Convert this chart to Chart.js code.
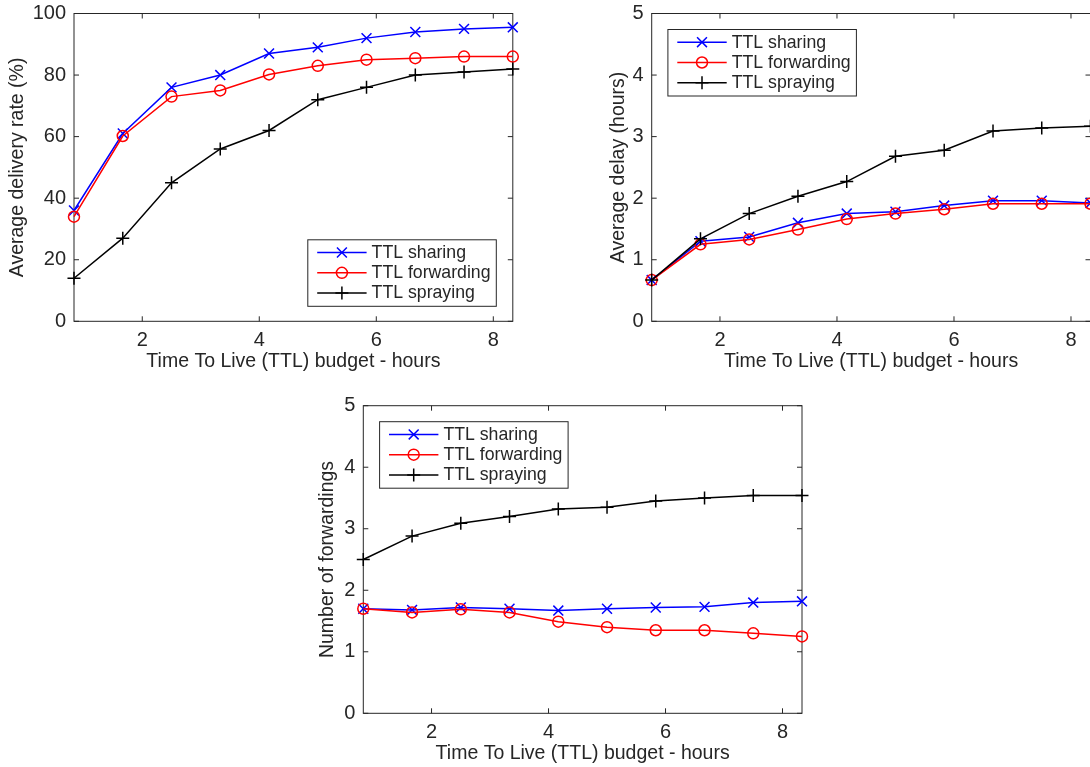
<!DOCTYPE html>
<html><head><meta charset="utf-8">
<script src="https://cdn.jsdelivr.net/npm/chart.js@4.4.1/dist/chart.umd.min.js"></script>
<style>
html,body{margin:0;padding:0;background:#fff;width:1090px;height:767px;overflow:hidden;position:relative}
canvas{position:absolute}
</style></head><body>
<canvas id="c1" width="545" height="380" style="left:0px;top:0px"></canvas>
<canvas id="c2" width="540" height="380" style="left:560px;top:0px"></canvas>
<canvas id="c3" width="520" height="377" style="left:300px;top:390px"></canvas>
<script>
// ---- data ----
const ttlHours = [0.833, 1.667, 2.5, 3.333, 4.167, 5, 5.833, 6.667, 7.5, 8.333];
const xRange = [0.8333, 8.3333];
const xTickValues = [2, 4, 6, 8];
const seriesNames = ['TTL sharing', 'TTL forwarding', 'TTL spraying'];
const xTitle = 'Time To Live (TTL) budget - hours';

const rateTicks = [0, 20, 40, 60, 80, 100];
const rateSharing    = [36, 61, 76, 80, 87, 89, 92, 94, 95, 95.5];
const rateForwarding = [34, 60.2, 73, 75, 80.2, 83, 85, 85.5, 86, 86];
const rateSpraying   = [14, 27, 45, 56, 62, 72, 76, 80, 81, 82];

const delayTicks = [0, 1, 2, 3, 4, 5];
const delaySharing    = [0.67, 1.30, 1.37, 1.60, 1.75, 1.78, 1.88, 1.96, 1.96, 1.92];
const delayForwarding = [0.67, 1.25, 1.33, 1.49, 1.66, 1.75, 1.82, 1.91, 1.91, 1.91];
const delaySpraying   = [0.67, 1.34, 1.75, 2.03, 2.27, 2.68, 2.78, 3.09, 3.14, 3.17];

const fwdTicks = [0, 1, 2, 3, 4, 5];
const fwdSharing    = [1.70, 1.68, 1.72, 1.70, 1.67, 1.70, 1.72, 1.73, 1.80, 1.82];
const fwdForwarding = [1.70, 1.64, 1.69, 1.64, 1.49, 1.40, 1.35, 1.35, 1.30, 1.25];
const fwdSpraying   = [2.50, 2.88, 3.09, 3.20, 3.32, 3.35, 3.45, 3.50, 3.54, 3.54];

// ---- styles ----
const TEXT = '#262626';
const FONT = "'Liberation Sans', Arial, Helvetica, sans-serif";
const seriesStyles = [
  {color: '#0000ff', pointStyle: 'crossRot', radius: 7, order: 3},
  {color: '#ff0000', pointStyle: 'circle', radius: 5.5, order: 2},
  {color: '#000000', pointStyle: 'cross', radius: 6.5, order: 1}
];

function drawMarker(ctx, style, x, y, r) {
  ctx.beginPath();
  if (style === 'circle') {
    ctx.arc(x, y, r, 0, Math.PI * 2);
  } else if (style === 'cross') {
    ctx.moveTo(x - r, y); ctx.lineTo(x + r, y);
    ctx.moveTo(x, y - r); ctx.lineTo(x, y + r);
  } else {
    const d = r * Math.SQRT1_2;
    ctx.moveTo(x - d, y - d); ctx.lineTo(x + d, y + d);
    ctx.moveTo(x - d, y + d); ctx.lineTo(x + d, y - d);
  }
  ctx.stroke();
}

const matlabPlugin = {
  id: 'matlabBox',
  beforeDatasetsDraw(chart) {
    const {ctx, chartArea: a, scales} = chart;
    ctx.save();
    ctx.strokeStyle = TEXT;
    ctx.lineWidth = 1;
    ctx.strokeRect(a.left, a.top, a.right - a.left, a.bottom - a.top);
    const tl = 5;
    ctx.beginPath();
    scales.x.ticks.forEach(t => {
      const px = scales.x.getPixelForValue(t.value);
      ctx.moveTo(px, a.bottom); ctx.lineTo(px, a.bottom - tl);
      ctx.moveTo(px, a.top); ctx.lineTo(px, a.top + tl);
    });
    scales.y.ticks.forEach(t => {
      const py = scales.y.getPixelForValue(t.value);
      ctx.moveTo(a.left, py); ctx.lineTo(a.left + tl, py);
      ctx.moveTo(a.right, py); ctx.lineTo(a.right - tl, py);
    });
    ctx.stroke();
    ctx.restore();
  },
  afterDraw(chart) {
    const cfg = chart.options.plugins.matlabLegend;
    if (!cfg) return;
    const {ctx, chartArea: a} = chart;
    const w = 188.5, h = 66.5;
    const left = cfg.corner === 'br' ? a.right - cfg.dx - w : a.left + cfg.dx;
    const top = cfg.corner === 'br' ? a.bottom - cfg.dy - h : a.top + cfg.dy;
    ctx.save();
    ctx.fillStyle = '#ffffff';
    ctx.fillRect(left, top, w, h);
    ctx.strokeStyle = TEXT;
    ctx.lineWidth = 1;
    ctx.strokeRect(left, top, w, h);
    chart.data.datasets.forEach((ds, i) => {
      const y = top + 12.7 + i * 20.3;
      ctx.strokeStyle = ds.borderColor;
      ctx.lineWidth = 1.5;
      ctx.beginPath();
      ctx.moveTo(left + 9.4, y); ctx.lineTo(left + 58.8, y);
      ctx.stroke();
      drawMarker(ctx, ds.pointStyle, left + 34.1, y, ds.pointRadius);
      ctx.fillStyle = TEXT;
      ctx.font = '17.7px ' + FONT;
      ctx.textBaseline = 'middle';
      ctx.textAlign = 'left';
      ctx.fillText(ds.label, left + 63.8, y + 0.5);
    });
    ctx.restore();
  }
};

function makeChart(id, values, yTicks, yTitle, lay, legendCfg) {
  const datasets = values.map((vals, i) => ({
    label: seriesNames[i],
    data: ttlHours.map((x, j) => ({x: x, y: vals[j]})),
    borderColor: seriesStyles[i].color,
    backgroundColor: 'rgba(0,0,0,0)',
    borderWidth: 1.5,
    pointStyle: seriesStyles[i].pointStyle,
    pointRadius: seriesStyles[i].radius,
    pointBorderWidth: 1.5,
    pointBorderColor: seriesStyles[i].color,
    pointBackgroundColor: 'rgba(0,0,0,0)',
    pointHoverRadius: seriesStyles[i].radius,
    order: seriesStyles[i].order,
    tension: 0,
    clip: false
  }));
  return new Chart(document.getElementById(id), {
    type: 'line',
    data: {datasets},
    plugins: [matlabPlugin],
    options: {
      responsive: false,
      animation: false,
      devicePixelRatio: 1,
      events: [],
      layout: {padding: {left: lay.padL, top: lay.padT, right: lay.padR, bottom: lay.padB}},
      plugins: {legend: {display: false}, tooltip: {enabled: false}, matlabLegend: legendCfg},
      scales: {
        x: {
          type: 'linear', min: xRange[0], max: xRange[1],
          afterBuildTicks: s => { s.ticks = xTickValues.map(v => ({value: v})); },
          afterFit: s => { s.height = 50; },
          grid: {display: false, drawTicks: false},
          border: {display: false},
          ticks: {color: TEXT, font: {family: FONT, size: 20}, padding: 7, maxRotation: 0, autoSkip: false},
          title: {display: true, text: xTitle, color: TEXT, font: {family: FONT, size: 19.5, lineHeight: 1}, padding: {top: 0, bottom: 0}}
        },
        y: {
          type: 'linear', min: yTicks[0], max: yTicks[yTicks.length - 1],
          afterBuildTicks: s => { s.ticks = yTicks.map(v => ({value: v})); },
          afterFit: s => { s.width = lay.yWidth; },
          grid: {display: false, drawTicks: false},
          border: {display: false},
          ticks: {color: TEXT, font: {family: FONT, size: 20, lineHeight: 0.5}, padding: 8, autoSkip: false},
          title: {display: true, text: yTitle, color: TEXT, font: {family: FONT, size: 19.5, lineHeight: 1}, padding: {top: lay.yTitlePad, bottom: 0}}
        }
      }
    }
  });
}

makeChart('c1', [rateSharing, rateForwarding, rateSpraying], rateTicks, 'Average delivery rate (%)',
  {padL: 0, padT: 13.5, padR: 32.2, padB: 8.7, yWidth: 74, yTitlePad: 8},
  {corner: 'br', dx: 16.5, dy: 15});
makeChart('c2', [delaySharing, delayForwarding, delaySpraying], delayTicks, 'Average delay (hours)',
  {padL: 40, padT: 13.5, padR: 9.5, padB: 8.7, yWidth: 51.7, yTitlePad: 8.5},
  {corner: 'tl', dx: 16.2, dy: 16});
makeChart('c3', [fwdSharing, fwdForwarding, fwdSpraying], fwdTicks, 'Number of forwardings',
  {padL: 10, padT: 15.7, padR: 18, padB: 3.7, yWidth: 53.3, yTitlePad: 8},
  {corner: 'tl', dx: 16.3, dy: 16});
</script>
</body></html>
